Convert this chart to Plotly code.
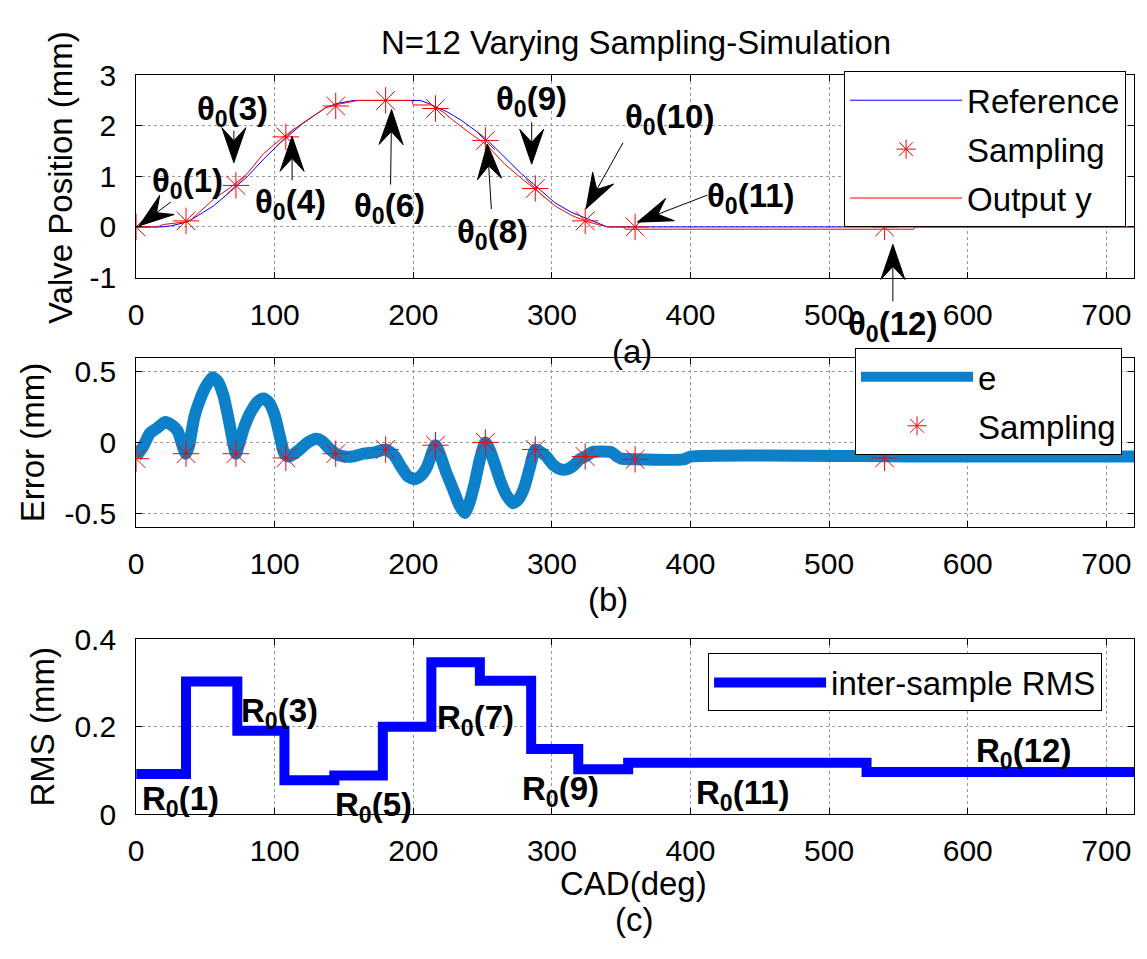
import numpy as np
import plotly.graph_objects as go

# ---------------- data ----------------
ref_deg = [0, 18, 25, 30, 37, 45, 56, 68, 80, 92, 104, 120, 130, 137, 145, 152, 157, 205, 212, 217,
           224, 229, 235, 241, 247, 254, 266, 278, 290, 302, 314, 326, 333, 340, 720]
ref_val = [0, 0, 0.02, 0.05, 0.10, 0.23, 0.42, 0.70, 0.99, 1.34, 1.66, 2.04, 2.22, 2.36, 2.44, 2.48, 2.50, 2.50, 2.43, 2.36,
           2.28, 2.20, 2.10, 1.98, 1.86, 1.70, 1.37, 1.05, 0.77, 0.48, 0.29, 0.16, 0.08, 0.0, 0.0]

out_deg = [0, 15, 20, 36, 40, 45, 56, 68, 80, 92, 104, 120, 137, 145, 160, 199, 200, 213, 222, 229,
           241, 253, 266, 278, 290, 302, 314, 326, 335, 340, 352, 353, 561, 562, 720]
out_val = [0, 0, 0.05, 0.10, 0.15, 0.28, 0.55, 0.78, 1.05, 1.45, 1.73, 2.05, 2.36, 2.42, 2.50, 2.50, 2.41, 2.41, 2.26, 2.10,
           1.85, 1.62, 1.24, 0.96, 0.70, 0.42, 0.23, 0.10, 0.03, 0.0, 0.0, -0.045, -0.045, 0.0, 0.0]

samp_deg = [0, 36, 72, 108, 144, 180, 216, 252, 288, 324, 360, 540]
samp_pos = [0.0, 0.12, 0.82, 1.78, 2.39, 2.50, 2.34, 1.71, 0.76, 0.12, 0.0, 0.0]
samp_err = [-0.115, -0.08, -0.08, -0.11, -0.08, -0.05, -0.02, 0.0, -0.05, -0.10, -0.12, -0.11]

err_deg = [0, 5, 10, 15, 21, 26, 30, 34, 36, 38, 42, 46, 50, 55, 59, 63, 67, 70, 72, 74,
           78, 83, 88, 92, 96, 100, 104, 107, 110, 114, 118, 124, 130, 134, 139, 144, 150, 156, 164, 172,
           180, 186, 191, 196, 201, 205, 210, 214, 216, 219, 224, 229, 233, 237, 240, 244, 248, 252, 255, 259,
           263, 267, 272, 276, 280, 284, 288, 292, 296, 301, 306, 311, 316, 320, 324, 329, 335, 343, 347, 350,
           360, 395, 400, 570, 720]
err_val = [-0.10, -0.03, 0.065, 0.10, 0.144, 0.12, 0.08, -0.04, -0.08, -0.03, 0.18, 0.30, 0.39, 0.46, 0.43, 0.33, 0.15, 0.0, -0.08, -0.02,
           0.11, 0.22, 0.29, 0.31, 0.28, 0.19, 0.03, -0.08, -0.10, -0.08, -0.05, 0.0, 0.025, 0.01, -0.04, -0.08, -0.10, -0.10, -0.08, -0.07,
           -0.05, -0.09, -0.17, -0.24, -0.26, -0.24, -0.17, -0.06, -0.02, -0.08, -0.22, -0.34, -0.44, -0.50, -0.44, -0.30, -0.12, 0.0, -0.05, -0.16,
           -0.28, -0.37, -0.43, -0.40, -0.32, -0.18, -0.05, -0.07, -0.10, -0.16, -0.19, -0.19, -0.16, -0.12, -0.10, -0.07, -0.065, -0.07, -0.10, -0.115,
           -0.12, -0.12, -0.10, -0.10, -0.10]

rms_edges = [0, 36, 73, 107, 143, 178, 213, 248, 285, 319, 355, 527, 720]
rms_val = [0.092, 0.303, 0.191, 0.078, 0.089, 0.200, 0.347, 0.305, 0.149, 0.103, 0.118, 0.097]

x_ticks = [0, 100, 200, 300, 400, 500, 600, 700]
y1_ticks = [-1, 0, 1, 2, 3]
y1_text = ["-1", "0", "1", "2", "3"]
y2_ticks = [-0.5, 0, 0.5]
y2_text = ["-0.5", "0", "0.5"]
y3_ticks = [0, 0.2, 0.4]
y3_text = ["0", "0.2", "0.4"]

# theta labels: (index, label position (deg,val), arrow tip (deg,val), tail offset px (dx, dy-up))
theta_notes = [
    ("1", (37, 0.86), (2, 0.02), (32, 24)),
    ("3", (69.8, 2.30), (70.5, 1.27), (0, 32)),
    ("4", (111.7, 0.46), (112.5, 1.79), (0, -44)),
    ("6", (182.9, 0.38), (184.3, 2.32), (-1, -75)),
    ("8", (257, -0.13), (253.4, 1.64), (4, -65)),
    ("9", (285.4, 2.48), (285.4, 1.24), (0, 42)),
    ("10", (385, 2.13), (324.6, 0.36), (37, 66)),
    ("11", (443.4, 0.57), (361.6, 0.095), (70, 27)),
    ("12", (546, -1.96), (546, -0.345), (0, -57)),
]
r_notes = [("1", 31.7, 0.031), ("3", 103.6, 0.231), ("5", 171.5, 0.018), ("7", 244.5, 0.216),
           ("9", 306.4, 0.054), ("11", 438, 0.044), ("12", 640.6, 0.141)]

# ---------------- layout geometry (page pixels; default 8px body margin compensated) ----------------
OFF = 8
W, H = 1132, 943
FONT = "Liberation Sans, Arial, sans-serif"
FS = 33
TFS = 30

def pxx(x):
    return (x - OFF) / W
def pxy(y):
    return 1 - (y - OFF) / H

XDOM = [pxx(129), pxx(1134)]
XR = [0, 720]
Y1DOM = [pxy(270), pxy(60)]; Y1R = [-1, 3]
Y2DOM = [pxy(529), pxy(353)]; Y2R = [-0.6, 0.6]
Y3DOM = [pxy(827), pxy(645)]; Y3R = [0, 0.4]

ERR_BLUE = "#0c80c8"

fig = go.Figure()
fig.add_trace(go.Scatter(x=ref_deg, y=ref_val, mode="lines", name="Reference",
                         line=dict(color="#0000ff", width=1), xaxis="x", yaxis="y",
                         legend="legend", legendgroup="a1"))
fig.add_trace(go.Scatter(x=samp_deg, y=samp_pos, mode="markers", name="Sampling",
                         marker=dict(symbol="asterisk-open", size=22, color="red", line=dict(color="red", width=1)),
                         xaxis="x", yaxis="y", legend="legend", legendgroup="a2"))
fig.add_trace(go.Scatter(x=out_deg, y=out_val, mode="lines", name="Output y",
                         line=dict(color="#ff0000", width=1), xaxis="x", yaxis="y",
                         legend="legend", legendgroup="a3"))
fig.add_trace(go.Scatter(x=err_deg, y=err_val, mode="lines", name="e",
                         line=dict(color=ERR_BLUE, width=12, shape="spline", smoothing=0.6),
                         xaxis="x2", yaxis="y2", legend="legend2", legendgroup="b1"))
fig.add_trace(go.Scatter(x=samp_deg, y=samp_err, mode="markers", name="Sampling",
                         marker=dict(symbol="asterisk-open", size=22, color="red", line=dict(color="red", width=1)),
                         xaxis="x2", yaxis="y2", legend="legend2", legendgroup="b2"))
fig.add_trace(go.Scatter(x=rms_edges, y=rms_val + [rms_val[-1]], mode="lines", name="inter-sample RMS",
                         line=dict(color="#0000ff", width=10, shape="hv"),
                         xaxis="x3", yaxis="y3", legend="legend3", legendgroup="c1"))

tickfont = dict(family=FONT, size=TFS, color="black")
def xax(anchor):
    return dict(domain=XDOM, range=XR, anchor=anchor, tickvals=x_ticks, ticktext=[str(t) for t in x_ticks],
                ticks="inside", ticklen=6, tickcolor="black", showline=True, linecolor="black", linewidth=1,
                mirror="ticks", showgrid=True, gridcolor="#9a9a9a", griddash="dot", gridwidth=1,
                zeroline=False, tickfont=tickfont, ticklabelstandoff=10)
def yax(dom, rng, tv, tt, anchor):
    return dict(domain=dom, range=rng, anchor=anchor, tickvals=tv, ticktext=tt,
                ticks="inside", ticklen=6, tickcolor="black", showline=True, linecolor="black", linewidth=1,
                mirror="ticks", showgrid=True, gridcolor="#9a9a9a", griddash="dot", gridwidth=1,
                zeroline=False, tickfont=tickfont, ticklabelstandoff=13)

legend_common = dict(bgcolor="white", bordercolor="black", borderwidth=1,
                     font=dict(family=FONT, size=FS, color="black"), xanchor="left", yanchor="top",
                     tracegroupgap=3, itemwidth=112)

fig.update_layout(
    width=W, height=H, margin=dict(l=0, r=0, t=0, b=0),
    paper_bgcolor="white", plot_bgcolor="white", font=dict(family=FONT, size=FS, color="black"),
    xaxis=xax("y"), xaxis2=xax("y2"), xaxis3=xax("y3"),
    yaxis=yax(Y1DOM, Y1R, y1_ticks, y1_text, "x"),
    yaxis2=yax(Y2DOM, Y2R, y2_ticks, y2_text, "x2"),
    yaxis3=yax(Y3DOM, Y3R, y3_ticks, y3_text, "x3"),
    legend=dict(x=pxx(842), y=pxy(56), **legend_common),
    legend2=dict(x=pxx(853), y=pxy(343), **legend_common),
    legend3=dict(x=pxx(705), y=pxy(660), **legend_common),
)

def to_paper(x, y, ydom, yr):
    px = XDOM[0] + (x - XR[0]) / (XR[1] - XR[0]) * (XDOM[1] - XDOM[0])
    py = ydom[0] + (y - yr[0]) / (yr[1] - yr[0]) * (ydom[1] - ydom[0])
    return px, py

ann = []
def ptext(text, xp, yp, size=FS, angle=0):
    ann.append(dict(text=text, x=pxx(xp), y=pxy(yp), xref="paper", yref="paper", showarrow=False,
                    xanchor="center", yanchor="middle", textangle=angle,
                    font=dict(family=FONT, size=size, color="black")))

ptext("N=12 Varying Sampling-Simulation", 632, 26)
ptext("(a)", 628, 347)
ptext("(b)", 604, 604)
ptext("CAD(deg)", 630, 899)
ptext("(c)", 630, 936)
ptext("Valve Position (mm)", 53, 166, angle=-90)
ptext("Error (mm)", 25, 441, angle=-90)
ptext("RMS (mm)", 35, 736, angle=-90)

shapes = []
L, HW, NOTCH = 35, 12, 13
for idx, (lx, ly), (tx, ty), (dx, dy) in theta_notes:
    lpx, lpy = to_paper(lx, ly, Y1DOM, Y1R)
    ann.append(dict(text="<b>θ<sub>0</sub>(%s)</b>" % idx, x=lpx, y=lpy, xref="paper", yref="paper",
                    showarrow=False, xanchor="center", yanchor="middle",
                    font=dict(family=FONT, size=FS, color="black")))
    ux, uy = -dx, -dy
    n = np.hypot(ux, uy); ux, uy = ux / n, uy / n
    nx, ny = -uy, ux
    c1 = (-L * ux + HW * nx, -L * uy + HW * ny)
    c2 = (-L * ux - HW * nx, -L * uy - HW * ny)
    nt = (-(L - NOTCH) * ux, -(L - NOTCH) * uy)
    path = ("M0,0 L%.2f,%.2f L%.2f,%.2f L%.2f,%.2f Z M%.2f,%.2f L%.2f,%.2f"
            % (c1[0], c1[1], nt[0], nt[1], c2[0], c2[1], nt[0], nt[1], dx, dy))
    axp, ayp = to_paper(tx, ty, Y1DOM, Y1R)
    shapes.append(dict(type="path", xref="paper", yref="paper", xsizemode="pixel", ysizemode="pixel",
                       xanchor=axp, yanchor=ayp, path=path, fillcolor="black",
                       line=dict(color="black", width=1), layer="above"))

for idx, rx, ry in r_notes:
    ann.append(dict(text="<b>R<sub>0</sub>(%s)</b>" % idx, x=rx, y=ry, xref="x3", yref="y3", showarrow=False,
                    xanchor="center", yanchor="middle", font=dict(family=FONT, size=FS, color="black")))

fig.update_layout(annotations=ann, shapes=shapes)
fig.write_html("out.html")
